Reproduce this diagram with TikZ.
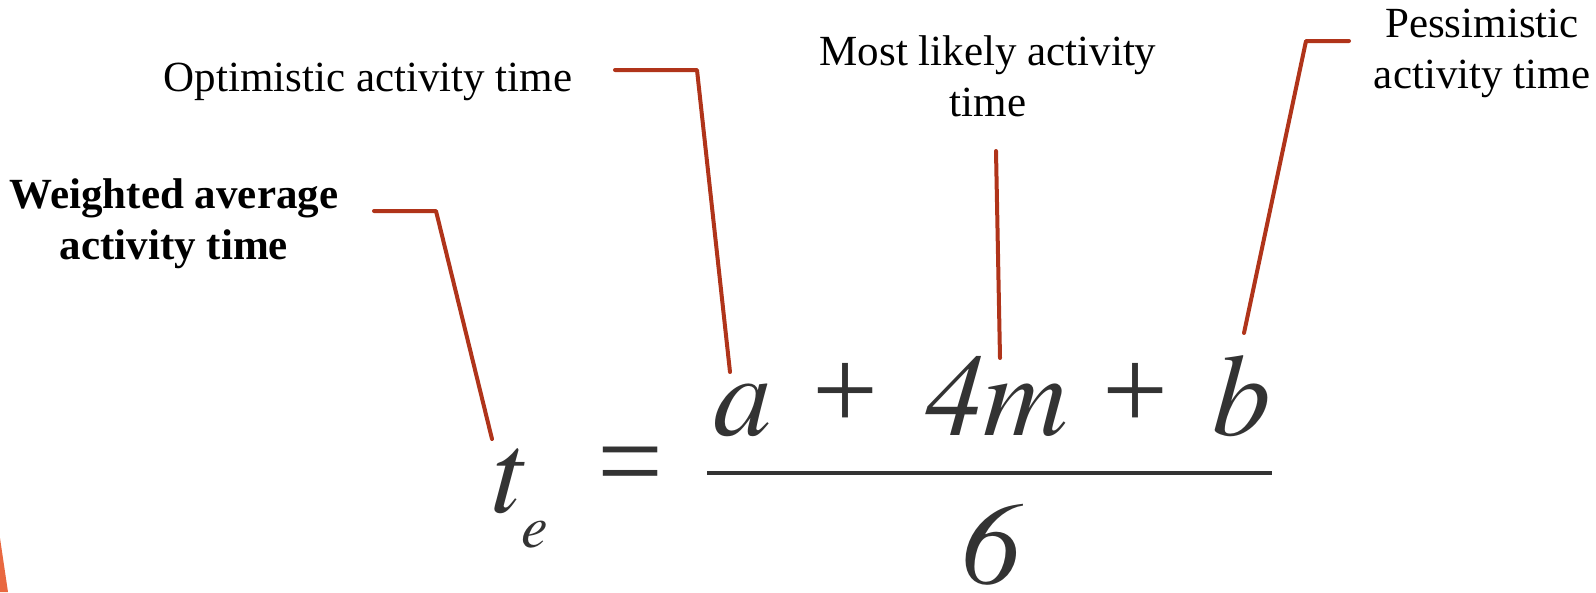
\documentclass[tikz,border=0pt]{standalone}
\usepackage{fontspec}
\setmainfont{Liberation Serif}
\newfontfamily\formit{texgyretermes-italic.otf}
\newfontfamily\formup{Liberation Serif}
\definecolor{leader}{RGB}{176,52,26}
\definecolor{formula}{RGB}{51,51,51}
\definecolor{accent}{RGB}{233,104,64}
\begin{document}
\begin{tikzpicture}[x=1pt,y=-1pt,
  lbl/.style={inner sep=0pt,align=center,font=\fontsize{43}{51}\selectfont,text=black},
  lblbold/.style={lbl,font=\fontsize{43}{51}\selectfont\bfseries},
  glyph/.style={inner sep=0pt,text=formula,font=\formit\fontsize{117}{120}\selectfont},
  uglyph/.style={inner sep=0pt,text=formula,font=\formup\fontsize{117}{120}\selectfont},
  subglyph/.style={inner sep=0pt,text=formula,font=\formit\fontsize{60}{64}\selectfont},
  leaderline/.style={draw=leader,line width=4pt,line cap=round,line join=round}]
\useasboundingbox (0,0) rectangle (1596,592);
% accent shape
\fill[accent] (0,538) -- (8,592) -- (0,592) -- cycle;
% labels
\node[lbl,anchor=north] (opt) at (368,63) {Optimistic activity time};
\node[lbl,anchor=north] (ml) at (988,35) {Most likely activity\\time};
\node[lbl,anchor=north] (pes) at (1482,9) {Pessimistic\\activity time};
\node[lblbold,anchor=north] (wav) at (174,178) {Weighted average\\activity time};
% formula
\node[glyph,anchor=base west] (t) at (490,512) {t};
\node[subglyph,anchor=base west] (e) at (521,547) {e};
\node[uglyph,anchor=center] (eq) at (630,474) {=};
\node[glyph,anchor=base west] (a) at (713,435) {a};
\node[uglyph,anchor=center] (p1) at (845,396) {+};
\node[glyph,anchor=base west] (fm) at (925,435) {4m};
\node[uglyph,anchor=center] (p2) at (1135,396) {+};
\node[glyph,anchor=base west] (b) at (1212,435) {b};
\node[glyph,anchor=base west] (six) at (962,584) {6};
\coordinate (barL) at (707,473);
\coordinate (barR) at (1272,473);
\draw[formula,line width=4pt] (barL) -- (barR);
% leader lines
\coordinate (w0) at (374,211);
\coordinate (w1) at (436,211);
\coordinate (w2) at (492,439);
\draw[leaderline] (w0) -- (w1) -- (w2);
\coordinate (o0) at (615,70);
\coordinate (o1) at (697,70);
\coordinate (o2) at (730,372);
\draw[leaderline] (o0) -- (o1) -- (o2);
\coordinate (m0) at (996,151);
\coordinate (m1) at (1000,358);
\draw[leaderline] (m0) -- (m1);
\coordinate (p0) at (1349,41);
\coordinate (pc) at (1306,41);
\coordinate (pe) at (1244,333);
\draw[leaderline] (p0) -- (pc) -- (pe);
\end{tikzpicture}
\end{document}
